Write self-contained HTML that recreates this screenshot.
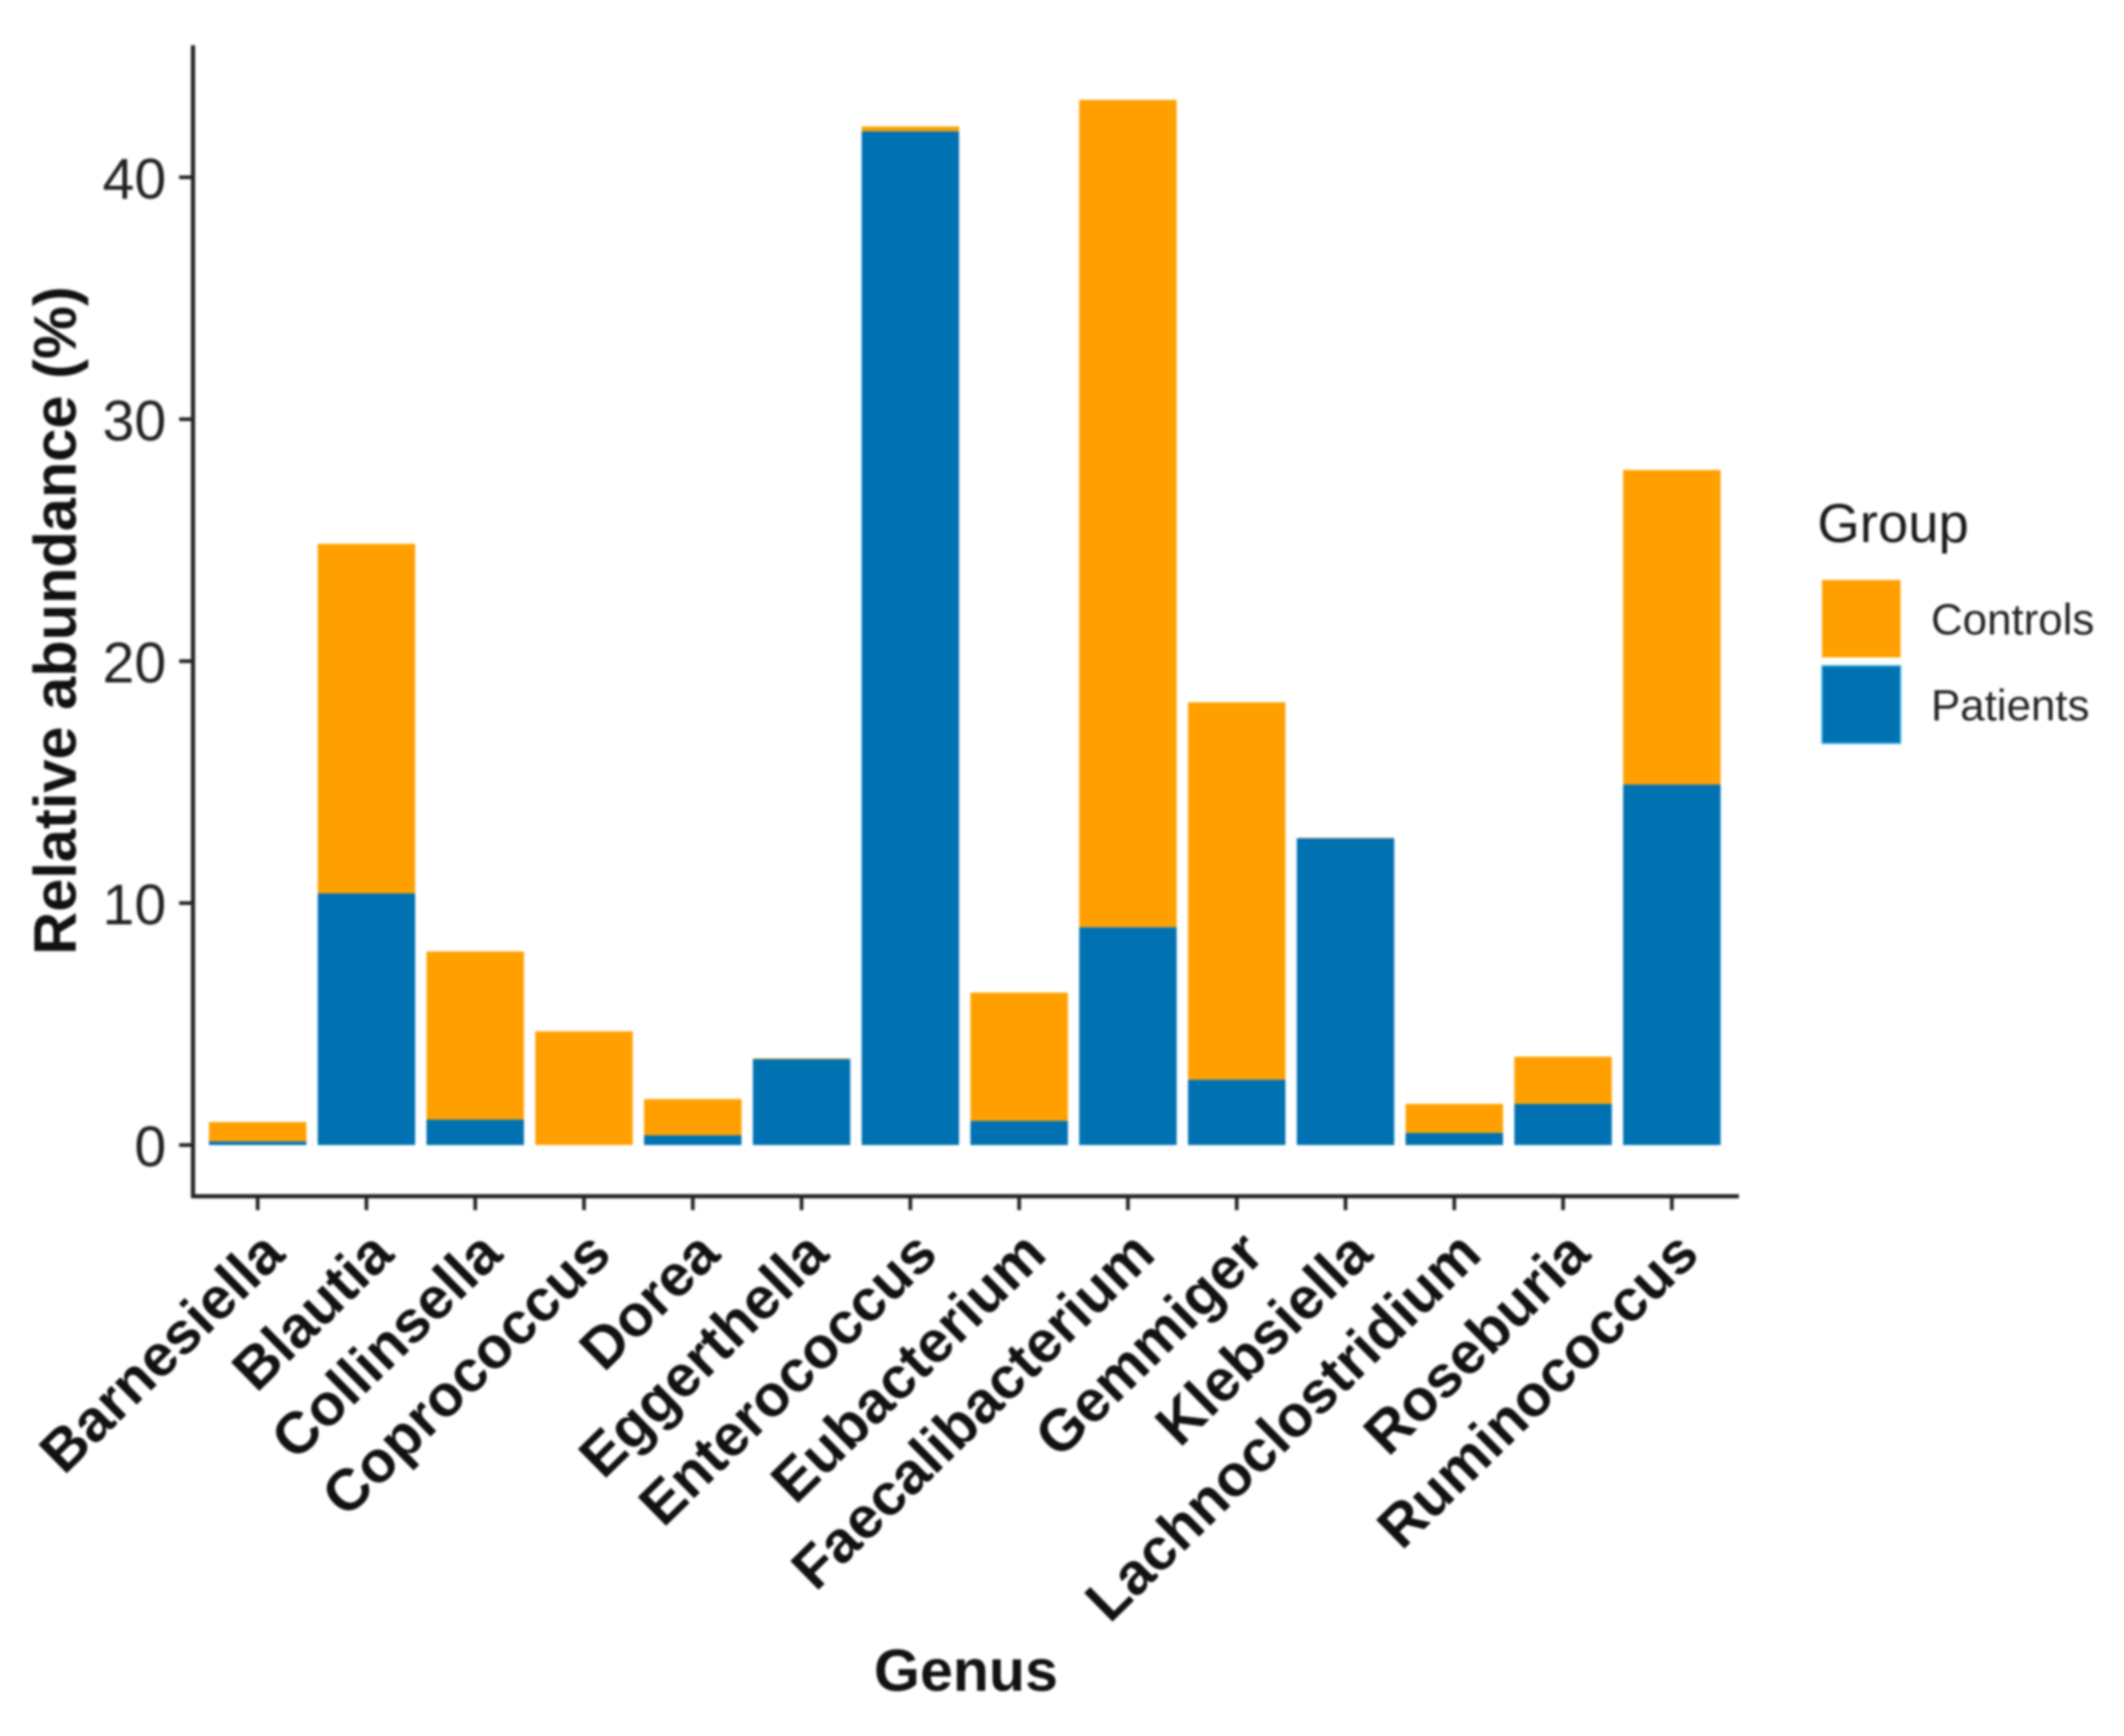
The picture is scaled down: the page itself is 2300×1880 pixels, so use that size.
<!DOCTYPE html>
<html>
<head>
<meta charset="utf-8">
<title>Relative abundance by genus</title>
<style>
html,body{margin:0;padding:0;background:#fff;width:2300px;height:1880px;overflow:hidden}
svg{display:block;filter:blur(1.2px)}
text{font-family:"Liberation Sans",sans-serif}
</style>
</head>
<body>
<svg id="chart" width="2300" height="1880" viewBox="0 0 2300 1880" xmlns="http://www.w3.org/2000/svg">
  <rect x="0" y="0" width="2300" height="1880" fill="#ffffff"/>
  <g id="bars"></g>
  <g id="axes"></g>
  <text transform="translate(82,672) rotate(-90)" text-anchor="middle" font-size="64.5" font-weight="700" fill="#111111">Relative abundance (%)</text>
  <text x="1046" y="1831" text-anchor="middle" font-size="64" font-weight="700" fill="#111111">Genus</text>
  <g>
    <text x="1968" y="587" font-size="59" fill="#1a1a1a">Group</text>
    <rect x="1973" y="628" width="85" height="84" fill="#FFA000"/>
    <rect x="1973" y="721" width="85" height="84" fill="#0072B2" stroke="#35b5ea" stroke-width="1.5"/>
    <text x="2091" y="687" font-size="47.5" fill="#222222">Controls</text>
    <text x="2091" y="780" font-size="47.5" fill="#222222">Patients</text>
  </g>
</svg>
<script>
const categories = ["Barnesiella","Blautia","Collinsella","Coprococcus","Dorea","Eggerthella","Enterococcus","Eubacterium","Faecalibacterium","Gemmiger","Klebsiella","Lachnoclostridium","Roseburia","Ruminococcus"];
const patients = [0.15,10.4,1.05,0,0.4,3.55,41.9,1.0,9.0,2.7,12.68,0.5,1.7,14.9];
const controls = [0.8,14.45,6.95,4.7,1.5,0.03,0.2,5.3,34.2,15.6,0.02,1.2,1.95,13.0];
const yTicks = [0,10,20,30,40];

const NS = "http://www.w3.org/2000/svg";
const y0Px = 1240, perUnit = 26.2;
const firstX = 279, stepX = 117.8, barW = 105.5;
const axisX = 209, axisTop = 49, axisY = 1295.5, axisRight = 1883;

function yScale(v){ return y0Px - v * perUnit; }
function xScale(i){ return firstX + i * stepX; }
function mk(tag, attrs, parent){
  const el = document.createElementNS(NS, tag);
  for (const k in attrs) el.setAttribute(k, attrs[k]);
  parent.appendChild(el);
  return el;
}

const barsG = document.getElementById("bars");
const axesG = document.getElementById("axes");

categories.forEach(function(name, i){
  const slug = name.toLowerCase();
  const cx = xScale(i);
  const p = patients[i], c = controls[i];
  const top = mk("rect", {x: cx - barW/2, y: yScale(p + c), width: barW, height: yScale(p) - yScale(p + c), fill: "#FFA000"}, barsG);
  
  
  if (p > 0) {
    const bot = mk("rect", {x: cx - barW/2, y: yScale(p), width: barW, height: yScale(0) - yScale(p), fill: "#0072B2"}, barsG);
    
    
  }
  const tick = mk("line", {x1: cx, x2: cx, y1: axisY, y2: axisY + 15, stroke: "#222", "stroke-width": 4}, axesG);
  
  
  const label = mk("text", {transform: "translate(" + (cx + 32) + ",1361) rotate(-44.5)", "text-anchor": "end", "font-size": 63.5, "font-weight": 700, fill: "#111111"}, axesG);
  label.textContent = name;
  
  
});

yTicks.forEach(function(v){
  const y = yScale(v);
  const tick = mk("line", {x1: axisX - 15, x2: axisX, y1: y, y2: y, stroke: "#222", "stroke-width": 4}, axesG);
  
  
  const label = mk("text", {x: axisX - 29, y: y + 23, "text-anchor": "end", "font-size": 62, fill: "#222222"}, axesG);
  label.textContent = String(v);
  
  
});

const yAxis = mk("line", {x1: axisX, x2: axisX, y1: axisTop, y2: axisY + 2, stroke: "#222", "stroke-width": 4.5}, axesG);


const xAxis = mk("line", {x1: axisX - 2, x2: axisRight, y1: axisY, y2: axisY, stroke: "#222", "stroke-width": 4.5}, axesG);


</script>
</body>
</html>
